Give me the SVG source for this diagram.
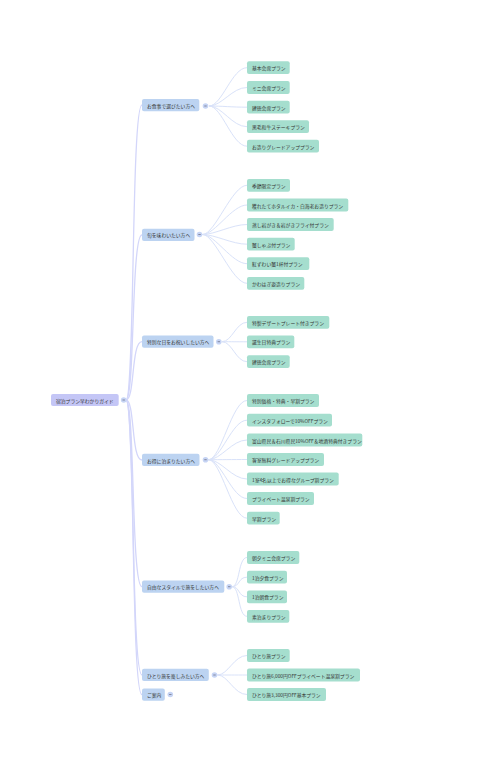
<svg xmlns="http://www.w3.org/2000/svg" width="483" height="764" viewBox="0 0 483 764">
<style>
text{font-family:"Noto Sans CJK JP","Noto Sans",sans-serif;font-size:4.8px;fill:#333;dominant-baseline:central}
.root rect{fill:#c4c6f6}
.br rect{fill:#bcd3f1}
.lf rect{fill:#a5dece}
.ln{fill:none;stroke:#d9e2f9;stroke-width:1}
.rl{fill:none;stroke:#d3d6fa;stroke-width:1.3}
.tg circle{fill:#c6d4f4}
.tg path{stroke:#556;stroke-width:0.6}
</style>
<rect width="483" height="764" fill="#fff"/>
<g id="connectors">
<path class="rl" d="M126 400C135 400 131 105 142 105"/>
<path class="rl" d="M126 400C135 400 131 235 142 235"/>
<path class="rl" d="M126 400C135 400 131 341.7 142 341.7"/>
<path class="rl" d="M126 400C135 400 131 460 142 460"/>
<path class="rl" d="M126 400C135 400 131 586.7 142 586.7"/>
<path class="rl" d="M126 400C135 400 131 675 142 675"/>
<path class="rl" d="M126 400C135 400 131 694.7 142 694.7"/>
<g>
<path class="ln" d="M209 106C222 106 232 67.7 247 67.7"/>
<path class="ln" d="M209 106C222 106 232 87.5 247 87.5"/>
<path class="ln" d="M209 106C222 106 232 107.2 247 107.2"/>
<path class="ln" d="M209 106C222 106 232 126.7 247 126.7"/>
<path class="ln" d="M209 106C222 106 232 146.2 247 146.2"/>
</g>
<g>
<path class="ln" d="M202.5 234.5C215 234.5 232 185.3 247 185.3"/>
<path class="ln" d="M202.5 234.5C215 234.5 232 205 247 205"/>
<path class="ln" d="M202.5 234.5C215 234.5 232 224.5 247 224.5"/>
<path class="ln" d="M202.5 234.5C215 234.5 232 244.2 247 244.2"/>
<path class="ln" d="M202.5 234.5C215 234.5 232 263.7 247 263.7"/>
<path class="ln" d="M202.5 234.5C215 234.5 232 283.3 247 283.3"/>
</g>
<g>
<path class="ln" d="M222 341.7C232 341.7 236 322.3 247 322.3"/>
<path class="ln" d="M222 341.7C232 341.7 236 341.8 247 341.8"/>
<path class="ln" d="M222 341.7C232 341.7 236 361.7 247 361.7"/>
</g>
<g>
<path class="ln" d="M208.5 459.7C221 459.7 232 400.5 247 400.5"/>
<path class="ln" d="M208.5 459.7C221 459.7 232 420.2 247 420.2"/>
<path class="ln" d="M208.5 459.7C221 459.7 232 440 247 440"/>
<path class="ln" d="M208.5 459.7C221 459.7 232 459.5 247 459.5"/>
<path class="ln" d="M208.5 459.7C221 459.7 232 479 247 479"/>
<path class="ln" d="M208.5 459.7C221 459.7 232 498.5 247 498.5"/>
<path class="ln" d="M208.5 459.7C221 459.7 232 518.2 247 518.2"/>
</g>
<g>
<path class="ln" d="M232 586.7C240 586.7 238 557.5 247 557.5"/>
<path class="ln" d="M232 586.7C240 586.7 238 577.2 247 577.2"/>
<path class="ln" d="M232 586.7C240 586.7 238 596.8 247 596.8"/>
<path class="ln" d="M232 586.7C240 586.7 238 616.3 247 616.3"/>
</g>
<g>
<path class="ln" d="M217.5 675C228 675 234 655.5 247 655.5"/>
<path class="ln" d="M217.5 675C228 675 234 675 247 675"/>
<path class="ln" d="M217.5 675C228 675 234 694.5 247 694.5"/>
</g>
</g>
<g id="root" class="root"><rect x="51" y="394" width="67.7" height="12" rx="2"/><text x="56" y="400">宿泊プラン早わかりガイド</text></g>
<g class="tg"><circle cx="123.7" cy="400" r="2.8"/><path d="M122.5 400H124.9"/></g>

<g id="b1" class="br"><rect x="142" y="99" width="57.3" height="12.3" rx="2"/><text x="147" y="105.2">お食事で選びたい方へ</text></g>
<g class="tg"><circle cx="205.5" cy="106" r="2.8"/><path d="M204.3 106H206.7"/></g>
<g id="b2" class="br"><rect x="142" y="228.7" width="52.5" height="12.3" rx="2"/><text x="147" y="234.9">旬を味わいたい方へ</text></g>
<g class="tg"><circle cx="199.5" cy="234.5" r="2.8"/><path d="M198.3 234.5H200.7"/></g>
<g id="b3" class="br"><rect x="142" y="335.5" width="71.5" height="12.3" rx="2"/><text x="147" y="341.7">特別な日をお祝いしたい方へ</text></g>
<g class="tg"><circle cx="218.8" cy="341.7" r="2.8"/><path d="M217.6 341.7H220"/></g>
<g id="b4" class="br"><rect x="142" y="453.8" width="57.5" height="12.3" rx="2"/><text x="147" y="460">お得に泊まりたい方へ</text></g>
<g class="tg"><circle cx="205.5" cy="459.7" r="2.8"/><path d="M204.3 459.7H206.7"/></g>
<g id="b5" class="br"><rect x="142" y="580.5" width="82.3" height="12.3" rx="2"/><text x="147" y="586.7">自由なスタイルで旅をしたい方へ</text></g>
<g class="tg"><circle cx="229.2" cy="586.7" r="2.8"/><path d="M228 586.7H230.4"/></g>
<g id="b6" class="br"><rect x="142" y="668.8" width="66.8" height="12.3" rx="2"/><text x="147" y="675">ひとり旅を楽しみたい方へ</text></g>
<g class="tg"><circle cx="214.5" cy="675" r="2.8"/><path d="M213.3 675H215.7"/></g>
<g id="b7" class="br"><rect x="142" y="688.5" width="22.8" height="12.3" rx="2"/><text x="147" y="694.7">ご案内</text></g>
<g class="tg"><circle cx="170.3" cy="694.5" r="2.8"/><path d="M169.1 694.5H171.5"/></g>

<g id="l1a" class="lf"><rect x="247" y="61.3" width="42.7" height="12.8" rx="2"/><text x="252" y="67.7">基本会席プラン</text></g>
<g id="l1b" class="lf"><rect x="247" y="81.1" width="42.7" height="12.8" rx="2"/><text x="252" y="87.5">ミニ会席プラン</text></g>
<g id="l1c" class="lf"><rect x="247" y="100.8" width="42.7" height="12.8" rx="2"/><text x="252" y="107.2">建徳会席プラン</text></g>
<g id="l1d" class="lf"><rect x="247" y="120.3" width="62" height="12.8" rx="2"/><text x="252" y="126.7">黒毛和牛ステーキプラン</text></g>
<g id="l1e" class="lf"><rect x="247" y="139.8" width="72" height="12.8" rx="2"/><text x="252" y="146.2">お造りグレードアッププラン</text></g>

<g id="l2a" class="lf"><rect x="247" y="178.9" width="43" height="12.8" rx="2"/><text x="252" y="185.3">季節限定プラン</text></g>
<g id="l2b" class="lf"><rect x="247" y="198.6" width="101.3" height="12.8" rx="2"/><text x="252" y="205">獲れたてホタルイカ・白海老お造りプラン</text></g>
<g id="l2c" class="lf"><rect x="247" y="218.1" width="86.7" height="12.8" rx="2"/><text x="252" y="224.5">蒸し岩がき＆岩がきフライ付プラン</text></g>
<g id="l2d" class="lf"><rect x="247" y="237.8" width="47.7" height="12.8" rx="2"/><text x="252" y="244.2">蟹しゃぶ付プラン</text></g>
<g id="l2e" class="lf"><rect x="247" y="257.3" width="62.3" height="12.8" rx="2"/><text x="252" y="263.7">紅ずわい蟹1杯付プラン</text></g>
<g id="l2f" class="lf"><rect x="247" y="276.9" width="57.3" height="12.8" rx="2"/><text x="252" y="283.3">かわはぎ姿造りプラン</text></g>

<g id="l3a" class="lf"><rect x="247" y="315.9" width="82.3" height="12.8" rx="2"/><text x="252" y="322.3">特製デザートプレート付きプラン</text></g>
<g id="l3b" class="lf"><rect x="247" y="335.4" width="47.3" height="12.8" rx="2"/><text x="252" y="341.8">誕生日特典プラン</text></g>
<g id="l3c" class="lf"><rect x="247" y="355.3" width="42.7" height="12.8" rx="2"/><text x="252" y="361.7">建徳会席プラン</text></g>

<g id="l4a" class="lf"><rect x="247" y="394.1" width="72" height="12.8" rx="2"/><text x="252" y="400.5">特別価格・特典・早割プラン</text></g>
<g id="l4b" class="lf"><rect x="247" y="413.8" width="85" height="12.8" rx="2"/><text x="252" y="420.2">インスタフォローで10%OFFプラン</text></g>
<g id="l4c" class="lf"><rect x="247" y="433.6" width="115.3" height="12.8" rx="2"/><text x="252" y="440">富山県民＆石川県民10%OFF＆地酒特典付きプラン</text></g>
<g id="l4d" class="lf"><rect x="247" y="453.1" width="77" height="12.8" rx="2"/><text x="252" y="459.5">客室無料グレードアッププラン</text></g>
<g id="l4e" class="lf"><rect x="247" y="472.6" width="91.7" height="12.8" rx="2"/><text x="252" y="479">1室4名以上でお得なグループ割プラン</text></g>
<g id="l4f" class="lf"><rect x="247" y="492.1" width="67" height="12.8" rx="2"/><text x="252" y="498.5">プライベート温泉割プラン</text></g>
<g id="l4g" class="lf"><rect x="247" y="511.8" width="32.7" height="12.8" rx="2"/><text x="252" y="518.2">早割プラン</text></g>

<g id="l5a" class="lf"><rect x="247" y="551.1" width="52.3" height="12.8" rx="2"/><text x="252" y="557.5">朝夕ミニ会席プラン</text></g>
<g id="l5b" class="lf"><rect x="247" y="570.8" width="40" height="12.8" rx="2"/><text x="252" y="577.2">1泊夕食プラン</text></g>
<g id="l5c" class="lf"><rect x="247" y="590.4" width="40" height="12.8" rx="2"/><text x="252" y="596.8">1泊朝食プラン</text></g>
<g id="l5d" class="lf"><rect x="247" y="609.9" width="42.3" height="12.8" rx="2"/><text x="252" y="616.3">素泊まりプラン</text></g>

<g id="l6a" class="lf"><rect x="247" y="649.1" width="42.7" height="12.8" rx="2"/><text x="252" y="655.5">ひとり旅プラン</text></g>
<g id="l6b" class="lf"><rect x="247" y="668.6" width="113" height="12.8" rx="2"/><text x="252" y="675">ひとり旅6,000円OFFプライベート温泉割プラン</text></g>
<g id="l6c" class="lf"><rect x="247" y="688.1" width="79" height="12.8" rx="2"/><text x="252" y="694.5">ひとり旅3,300円OFF基本プラン</text></g>
</svg>
